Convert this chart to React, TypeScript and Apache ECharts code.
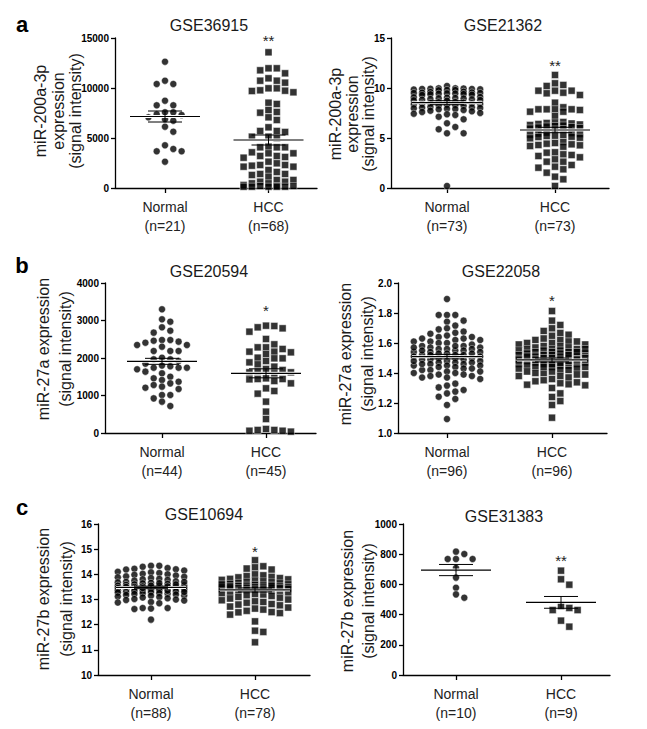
import React, { useEffect, useRef } from "react";
import * as echarts from "echarts";

// ---------------- DATA ----------------
// Panel a, GSE36915
const a1Title = "GSE36915";
const a1Sig = "**";
const a1YName = ["miR-200a-3p", "expression", "(signal intensity)"];
const a1Labels = ["Normal\n(n=21)", "HCC\n(n=68)"];
const a1Ticks = [0, 5000, 10000, 15000];
const a1Normal = [12630, 10730, 10400, 10400, 8730, 8270, 8270, 7570, 7570, 7370, 7300, 7070, 6870, 6730, 6130, 5630, 4270, 3900, 3670, 3670, 2630];
const a1HCC = [13570, 11970, 11770, 11470, 11970, 10970, 10730, 10530, 10730, 9970, 9730, 9700, 9570, 9770, 9970, 8530, 8400, 7800, 7600, 7530, 7070, 6800, 6070, 5700, 5700, 5600, 5130, 5130, 4970, 4130, 4070, 4070, 4070, 3570, 3470, 3470, 3200, 3200, 3100, 3030, 2630, 2470, 2300, 2300, 2230, 2130, 2130, 1800, 1600, 1400, 1400, 1300, 1130, 800, 800, 630, 630, 470, 470, 300, 200, 200, 200, 130, 130, 130, 130, 130];
const a1Mean = [7150, 4800];
const a1Sem = [550, 500];

// Panel a, GSE21362
const a2Title = "GSE21362";
const a2Sig = "**";
const a2YName = ["miR-200a-3p", "expression", "(signal intensity)"];
const a2Labels = ["Normal\n(n=73)", "HCC\n(n=73)"];
const a2Ticks = [0, 5, 10, 15];
const a2Normal = [10.2, 9.97, 9.95, 9.9, 9.9, 9.87, 9.85, 9.8, 9.97, 9.93, 9.8, 9.77, 9.63, 9.6, 9.55, 9.53, 9.5, 9.47, 9.45, 9.4, 9.37, 9.33, 9.3, 9.5, 9.43, 9.1, 9.07, 9.03, 9.0, 8.97, 8.95, 8.9, 8.87, 8.83, 8.8, 8.77, 8.73, 8.6, 8.57, 8.53, 8.5, 8.47, 8.43, 8.4, 8.37, 8.33, 8.3, 8.27, 8.23, 8.1, 8.07, 8.03, 8.0, 7.97, 7.93, 7.9, 7.87, 7.8, 7.73, 7.67, 7.6, 7.5, 7.43, 7.37, 7.3, 7.13, 6.87, 6.47, 6.1, 5.87, 5.47, 5.47, 0.2];
const a2HCC = [11.3, 10.47, 10.3, 10.2, 9.73, 9.73, 9.73, 9.53, 9.47, 9.3, 8.53, 8.07, 7.87, 7.87, 7.87, 7.87, 7.8, 7.63, 7.63, 7.2, 6.6, 6.55, 6.5, 6.45, 6.4, 6.35, 6.3, 6.25, 6.2, 6.15, 6.1, 6.05, 6.0, 5.95, 5.9, 5.85, 5.55, 5.5, 5.45, 5.4, 5.33, 5.3, 5.23, 5.2, 5.13, 5.1, 5.03, 4.97, 4.6, 4.5, 4.43, 4.37, 4.3, 4.27, 4.2, 4.13, 3.57, 3.53, 3.37, 3.3, 3.2, 3.07, 2.87, 2.63, 2.63, 2.3, 2.13, 2.03, 1.87, 1.53, 1.13, 0.87, 0.2];
const a2Mean = [8.53, 5.8];
const a2Sem = [0.2, 0.27];

// Panel b, GSE20594
const b1Title = "GSE20594";
const b1Sig = "*";
const b1YName = ["miR-27a expression", "(signal intensity)"];
const b1Labels = ["Normal\n(n=44)", "HCC\n(n=45)"];
const b1Ticks = [0, 1000, 2000, 3000, 4000];
const b1Normal = [3298, 3031, 2969, 2818, 2729, 2676, 2480, 2480, 2462, 2436, 2409, 2347, 2347, 2302, 2187, 2187, 2187, 2009, 1964, 1964, 1920, 1850, 1800, 1780, 1742, 1742, 1742, 1698, 1636, 1591, 1502, 1458, 1413, 1369, 1324, 1280, 1236, 1209, 1173, 1013, 1013, 924, 836, 720];
const b1HCC = [2862, 2853, 2818, 2791, 2702, 2507, 2364, 2284, 2284, 2240, 2169, 2169, 2151, 2107, 2009, 1991, 1991, 1920, 1884, 1831, 1769, 1707, 1680, 1636, 1618, 1618, 1591, 1458, 1440, 1440, 1431, 1387, 1324, 1191, 1120, 1049, 836, 569, 373, 107, 80, 80, 60, 60, 36];
const b1Mean = [1911, 1591];
const b1Sem = [80, 120];

// Panel b, GSE22058
const b2Title = "GSE22058";
const b2Sig = "*";
const b2YName = ["miR-27a expression", "(signal intensity)"];
const b2Labels = ["Normal\n(n=96)", "HCC\n(n=96)"];
const b2Ticks = [1.0, 1.2, 1.4, 1.6, 1.8, 2.0];
const b2Normal = [1.893, 1.787, 1.787, 1.787, 1.749, 1.742, 1.716, 1.698, 1.691, 1.676, 1.668, 1.662,
  1.65, 1.64, 1.64, 1.63, 1.62, 1.62, 1.61, 1.6, 1.6, 1.59, 1.58, 1.58, 1.57, 1.57, 1.56, 1.56, 1.56, 1.55, 1.55, 1.54,
  1.54, 1.54, 1.53, 1.53, 1.52, 1.52, 1.52, 1.51, 1.51, 1.5, 1.5, 1.5, 1.49, 1.49, 1.49, 1.48, 1.48, 1.47, 1.47, 1.47,
  1.46, 1.46, 1.45, 1.45, 1.45, 1.44, 1.44, 1.43, 1.43, 1.42, 1.42, 1.41, 1.41, 1.4, 1.4, 1.39, 1.39, 1.38, 1.38, 1.37,
  1.37, 1.36, 1.53, 1.51, 1.48, 1.46, 1.55, 1.58, 1.61, 1.63, 1.57, 1.52,
  1.329, 1.316, 1.304, 1.287, 1.276, 1.264, 1.242, 1.227, 1.187, 1.093];
const b2HCC = [1.813, 1.749, 1.72, 1.698, 1.68, 1.667, 1.655, 1.648,
  1.63, 1.62, 1.62, 1.61, 1.61, 1.6, 1.6, 1.59, 1.59, 1.58, 1.58, 1.57, 1.57, 1.56, 1.56, 1.56, 1.55, 1.55, 1.55, 1.54,
  1.54, 1.54, 1.53, 1.53, 1.53, 1.52, 1.52, 1.52, 1.51, 1.51, 1.51, 1.5, 1.5, 1.5, 1.49, 1.49, 1.49, 1.48, 1.48, 1.48,
  1.47, 1.47, 1.47, 1.46, 1.46, 1.46, 1.45, 1.45, 1.45, 1.44, 1.44, 1.44, 1.43, 1.43, 1.42, 1.42, 1.41, 1.41, 1.4, 1.4,
  1.39, 1.39, 1.38, 1.38, 1.37, 1.5, 1.52, 1.48, 1.46, 1.54, 1.44, 1.56, 1.49, 1.51,
  1.36, 1.352, 1.345, 1.338, 1.332, 1.325, 1.322, 1.318, 1.3, 1.264, 1.24, 1.213, 1.187, 1.102];
const b2Mean = [1.509, 1.487];
const b2Sem = [0.015, 0.013];

// Panel c, GSE10694
const c1Title = "GSE10694";
const c1Sig = "*";
const c1YName = ["miR-27b expression", "(signal intensity)"];
const c1Labels = ["Normal\n(n=88)", "HCC\n(n=78)"];
const c1Ticks = [10, 11, 12, 13, 14, 15, 16];
const c1Normal = [14.34, 14.34, 14.3, 14.25, 14.22, 14.2, 14.19, 14.15,
  14.1, 14.08, 14.05, 14.02, 14.0, 13.98, 13.95, 13.92, 13.9, 13.88, 13.85, 13.82, 13.8, 13.78, 13.75, 13.72, 13.7, 13.68,
  13.66, 13.64, 13.62, 13.6, 13.58, 13.56, 13.55, 13.54, 13.52, 13.5, 13.5, 13.48, 13.47, 13.46, 13.45, 13.44, 13.43, 13.42,
  13.4, 13.38, 13.37, 13.36, 13.35, 13.34, 13.32, 13.3, 13.29, 13.28, 13.26, 13.25, 13.23, 13.22, 13.2, 13.18, 13.16, 13.15,
  13.12, 13.1, 13.08, 13.05, 13.02, 13.0, 12.98, 12.96, 13.5, 13.55, 13.45, 13.6, 13.4, 13.65, 13.35, 13.7, 13.3, 13.52,
  12.9, 12.88, 12.85, 12.66, 12.66, 12.64, 12.62, 12.2];
const c1HCC = [14.56, 14.32, 14.28, 14.23, 14.19,
  14.0, 13.96, 13.93, 13.9, 13.88, 13.85, 13.82, 13.8, 13.78, 13.75, 13.72, 13.7, 13.68, 13.66, 13.64, 13.62, 13.6, 13.58,
  13.56, 13.55, 13.54, 13.52, 13.5, 13.49, 13.48, 13.47, 13.46, 13.45, 13.44, 13.43, 13.42, 13.4, 13.38, 13.36, 13.35,
  13.33, 13.3, 13.28, 13.25, 13.22, 13.2, 13.17, 13.14, 13.1, 13.07, 13.04, 13.0, 12.97, 12.93, 12.9, 12.87, 13.5, 13.45,
  13.55, 13.4, 13.6, 13.52,
  12.82, 12.8, 12.77, 12.72, 12.68, 12.64, 12.6, 12.55, 12.5, 12.49, 12.46, 12.4, 12.13, 11.76, 11.71, 11.3];
const c1Mean = [13.48, 13.38];
const c1Sem = [0.05, 0.08];

// Panel c, GSE31383
const c2Title = "GSE31383";
const c2Sig = "**";
const c2YName = ["miR-27b expression", "(signal intensity)"];
const c2Labels = ["Normal\n(n=10)", "HCC\n(n=9)"];
const c2Ticks = [0, 200, 400, 600, 800, 1000];
const c2Normal = [817, 801, 768, 768, 768, 709, 645, 578, 534, 512];
const c2HCC = [691, 634, 598, 457, 444, 430, 430, 360, 320];
const c2Mean = [695, 481];
const c2Sem = [37, 39];

// ---------------- LAYOUT ----------------
const FONT = '"Liberation Sans", Arial, Helvetica, sans-serif';

type Panel = {
  title: string; sig: string; yName: string[]; labels: string[]; ticks: number[];
  normal: number[]; hcc: number[]; mean: number[]; sem: number[]; dec: number;
  left: number; top: number; width: number; height: number; c0: number; c1: number;
  titleX: number; titleY: number; sigY: number; nameX: number[]; nameY: number;
  maxN: number; maxH: number;
};

const panels: Panel[] = [
  { title: a1Title, sig: a1Sig, yName: a1YName, labels: a1Labels, ticks: a1Ticks, normal: a1Normal, hcc: a1HCC, mean: a1Mean, sem: a1Sem, dec: 0,
    left: 115, top: 38, width: 202, height: 150, c0: 165, c1: 268.5, titleX: 209, titleY: 25, sigY: 40, nameX: [40, 58, 75], nameY: 111, maxN: 3, maxH: 3 },
  { title: a2Title, sig: a2Sig, yName: a2YName, labels: a2Labels, ticks: a2Ticks, normal: a2Normal, hcc: a2HCC, mean: a2Mean, sem: a2Sem, dec: 0,
    left: 391, top: 38, width: 218, height: 150, c0: 447, c1: 555, titleX: 503, titleY: 25, sigY: 65, nameX: [335, 352, 368], nameY: 114, maxN: 4, maxH: 3 },
  { title: b1Title, sig: b1Sig, yName: b1YName, labels: b1Labels, ticks: b1Ticks, normal: b1Normal, hcc: b1HCC, mean: b1Mean, sem: b1Sem, dec: 0,
    left: 105, top: 283, width: 211, height: 150, c0: 162, c1: 266, titleX: 209, titleY: 271, sigY: 310, nameX: [43, 65], nameY: 349, maxN: 3, maxH: 3 },
  { title: b2Title, sig: b2Sig, yName: b2YName, labels: b2Labels, ticks: b2Ticks, normal: b2Normal, hcc: b2HCC, mean: b2Mean, sem: b2Sem, dec: 1,
    left: 398, top: 283, width: 209, height: 150, c0: 447, c1: 552, titleX: 501, titleY: 271, sigY: 300, nameX: [345, 367], nameY: 354, maxN: 4, maxH: 4 },
  { title: c1Title, sig: c1Sig, yName: c1YName, labels: c1Labels, ticks: c1Ticks, normal: c1Normal, hcc: c1HCC, mean: c1Mean, sem: c1Sem, dec: 0,
    left: 98, top: 524, width: 212, height: 151, c0: 151, c1: 255, titleX: 204, titleY: 514, sigY: 551, nameX: [43, 66], nameY: 599, maxN: 4, maxH: 4 },
  { title: c2Title, sig: c2Sig, yName: c2YName, labels: c2Labels, ticks: c2Ticks, normal: c2Normal, hcc: c2HCC, mean: c2Mean, sem: c2Sem, dec: 0,
    left: 403, top: 524, width: 207, height: 151, c0: 456, c1: 561, titleX: 504, titleY: 516, sigY: 560, nameX: [347, 368], nameY: 601, maxN: 2, maxH: 2 },
];

const panelLetters = [
  { t: "a", x: 22, y: 24 },
  { t: "b", x: 22, y: 265 },
  { t: "c", x: 22, y: 507 },
];

const COL_PX = 8.3;
const MIN_DY = 6.5;

// column-based dot arrangement (x offset layout only), width capped at maxCol columns each side
function swarm(values: number[], pxPerUnit: number, colPx: number, minDy: number, maxCol: number): number[] {
  const order = values.map((_, i) => i).sort((a, b) => values[b] - values[a]);
  const cols: number[] = [0];
  for (let c = 1; c <= maxCol; c++) { cols.push(c); cols.push(-c); }
  const placed: Record<number, number[]> = {};
  cols.forEach((c) => (placed[c] = []));
  const offs = new Array(values.length).fill(0);
  for (const i of order) {
    const y = values[i] * pxPerUnit;
    let chosen: number | null = null;
    let bestCol = 0, bestGap = -1;
    for (const c of cols) {
      const gaps = placed[c].map((py) => Math.abs(py - y));
      const g = gaps.length ? Math.min(...gaps) : Infinity;
      if (g >= minDy) { chosen = c; break; }
      if (g > bestGap + 0.01) { bestGap = g; bestCol = c; }
    }
    if (chosen === null) chosen = bestCol;
    placed[chosen].push(y);
    offs[i] = chosen * colPx;
  }
  return offs;
}

function buildOption() {
  const grid: any[] = [];
  const xAxis: any[] = [];
  const yAxis: any[] = [];
  const series: any[] = [];
  const graphic: any[] = [];

  panels.forEach((p, i) => {
    const pxPerX = p.c1 - p.c0;
    const xMin = -(p.c0 - p.left) / pxPerX;
    const xMax = (p.left + p.width - p.c0) / pxPerX;
    const yMin = p.ticks[0];
    const yMax = p.ticks[p.ticks.length - 1];
    const yStep = p.ticks[1] - p.ticks[0];
    const pxPerY = p.height / (yMax - yMin);

    grid.push({ left: p.left, top: p.top, width: p.width, height: p.height, containLabel: false });
    xAxis.push({
      type: "value", gridIndex: i, min: xMin, max: xMax,
      axisLine: { show: true, onZero: false, lineStyle: { color: "#000", width: 1.3 } },
      axisTick: { show: true, customValues: [0, 1], length: 5, lineStyle: { color: "#000", width: 1.3 } },
      axisLabel: {
        customValues: [0, 1], formatter: (v: number) => p.labels[Math.round(v)] ?? "",
        color: "#222", fontSize: 14, lineHeight: 19, margin: 9, fontFamily: FONT,
      },
      splitLine: { show: false },
    });
    yAxis.push({
      type: "value", gridIndex: i, min: yMin, max: yMax, interval: yStep,
      axisLine: { show: true, onZero: false, lineStyle: { color: "#000", width: 1.3 } },
      axisTick: { show: true, length: 4, lineStyle: { color: "#000", width: 1.3 } },
      axisLabel: {
        color: "#000", fontSize: 10, fontWeight: "bold", margin: 6, fontFamily: FONT,
        formatter: (v: number) => v.toFixed(p.dec),
      },
      splitLine: { show: false },
    });

    const offN = swarm(p.normal, pxPerY, COL_PX, MIN_DY, p.maxN);
    const offH = swarm(p.hcc, pxPerY, COL_PX, MIN_DY, p.maxH);
    const itemStyle = { color: "#000", borderColor: "#fff", borderWidth: 0.5 };
    series.push({
      type: "scatter", xAxisIndex: i, yAxisIndex: i, symbol: "circle", symbolSize: 7, z: 2,
      itemStyle, silent: true,
      data: p.normal.map((v, k) => [0 + offN[k] / pxPerX, v]),
    });
    series.push({
      type: "scatter", xAxisIndex: i, yAxisIndex: i, symbol: "rect", symbolSize: 7, z: 2,
      itemStyle, silent: true,
      data: p.hcc.map((v, k) => [1 + offH[k] / pxPerX, v]),
    });
    series.push({
      type: "custom", xAxisIndex: i, yAxisIndex: i, z: 5, silent: true,
      encode: { x: 0, y: 1 },
      data: p.mean.map((m, k) => [k, m, p.sem[k]]),
      renderItem: (_params: any, api: any) => {
        const x = api.value(0), m = api.value(1), s = api.value(2);
        const c = api.coord([x, m]);
        const hi = api.coord([x, m + s]);
        const lo = api.coord([x, m - s]);
        const W = 35, C = 17;
        const ln = (x1: number, y1: number, x2: number, y2: number, w: number, col: string) => ({
          type: "line", shape: { x1, y1, x2, y2 }, style: { stroke: col, lineWidth: w },
        });
        return {
          type: "group",
          children: [
            ln(c[0] - W, c[1], c[0] + W, c[1], 3, "#fff"),
            ln(c[0], hi[1], c[0], lo[1], 1, "#000"),
            ln(c[0] - C, hi[1], c[0] + C, hi[1], 1, "#000"),
            ln(c[0] - C, lo[1], c[0] + C, lo[1], 1, "#000"),
            ln(c[0] - W, c[1], c[0] + W, c[1], 1.2, "#000"),
          ],
        };
      },
    });

    const txt = (x: number, y: number, text: string, font: string, fill: string, rotation = 0) => ({
      type: "text", x, y, rotation, silent: true,
      style: { text, fill, font, align: "center", verticalAlign: "middle", textAlign: "center", textVerticalAlign: "middle" },
    });
    graphic.push(txt(p.titleX, p.titleY, p.title, `16px ${FONT}`, "#1a1a1a"));
    graphic.push(txt(p.c1, p.sigY, p.sig, `15px ${FONT}`, "#222"));
    p.yName.forEach((line, j) => {
      graphic.push(txt(p.nameX[j], p.nameY, line, `16px ${FONT}`, "#1a1a1a", Math.PI / 2));
    });
  });

  panelLetters.forEach((l) => {
    graphic.push({
      type: "text", x: l.x, y: l.y, silent: true,
      style: { text: l.t, fill: "#000", font: `bold 22px ${FONT}`, align: "center", verticalAlign: "middle", textAlign: "center", textVerticalAlign: "middle" },
    });
  });

  return {
    animation: false,
    backgroundColor: "#fff",
    grid, xAxis, yAxis, series, graphic,
  };
}

export default function App() {
  const ref = useRef<HTMLDivElement>(null);
  useEffect(() => {
    if (!ref.current) return;
    const chart = echarts.init(ref.current, undefined, { renderer: "svg" });
    chart.setOption(buildOption() as any);
    return () => chart.dispose();
  }, []);
  return (
    <div
      ref={ref}
      style={{ position: "fixed", left: 0, top: 0, width: 647, height: 729, background: "#fff" }}
    />
  );
}
